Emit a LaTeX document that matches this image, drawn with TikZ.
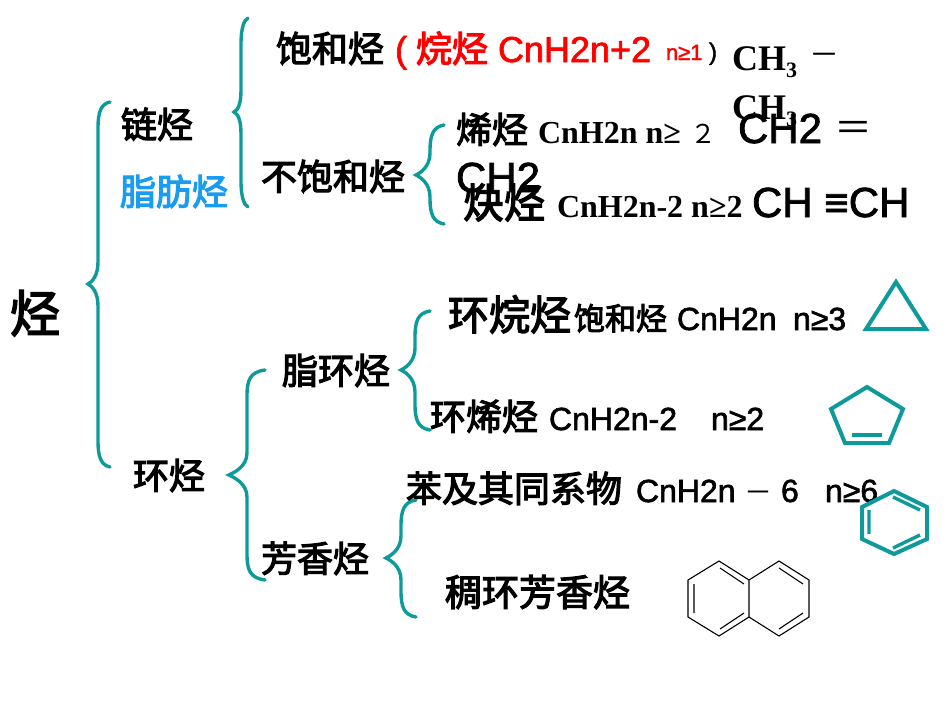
\documentclass[tikz,border=0pt]{standalone}
\usepackage{fontspec}
\setmainfont[FakeBold=1.8]{Liberation Sans}
\newfontfamily\cjk[FakeBold=3.2]{Noto Sans CJK SC}
\newfontfamily\cjkthin{Noto Sans CJK SC}
\newfontfamily\ser{Liberation Serif}
\definecolor{teal1}{HTML}{0E9A9A}
\definecolor{blue1}{HTML}{1A9CF0}
\newcommand{\fs}[1]{\fontsize{#1}{#1}\selectfont}
\tikzset{
  tx/.style={anchor=base west,inner sep=0pt,outer sep=0pt},
  zh/.style={tx,font=\cjk\fs{#1}},
  zt/.style={tx,font=\cjkthin\fs{#1}},
  la/.style={tx,font=\fs{#1}},
  sb/.style={tx,font=\ser\bfseries\fs{#1}},
  brace/.style={draw=teal1,line width=3.4pt,line cap=round,fill=none},
  ring/.style={draw=teal1,line width=4pt,line join=miter},
  inner bond/.style={draw=teal1,line width=3.4pt},
  thin ring/.style={draw=black,line width=1.1pt}
}
\newcommand{\brc}[6]{% x-top-end, x-line, x-tip, y-top, y-mid, y-bottom
  \draw[brace] (#1,#4) .. controls (#2+3,#4+2) and (#2,#4+10) .. (#2,#4+26)
    -- (#2,#5-22) .. controls (#2,#5-8) and (#3+4,#5-2) .. (#3,#5)
    .. controls (#3+4,#5+2) and (#2,#5+8) .. (#2,#5+22)
    -- (#2,#6-26) .. controls (#2,#6-10) and (#2+3,#6-2) .. (#1,#6);}
\begin{document}
\begin{tikzpicture}[x=1pt,y=-1pt]
\useasboundingbox (0,0) rectangle (950,713);
\brc{110}{98}{88}{102}{284}{467}
\brc{248}{241}{234}{18}{112}{207}
\brc{444}{430}{416}{125}{175}{224}
\brc{430}{415}{401}{311}{370}{430}
\brc{265}{247}{229}{370}{475}{580}
\brc{416}{401}{386}{500}{558}{617}

\node[zh=50] (root) at (10,332) {烃};
\node[zh=36] (chain) at (121,138) {链烃};
\node[zh=36,text=blue1] (fat) at (120,205) {脂肪烃};
\node[zh=36] (cyc) at (133,489) {环烃};
\node[zh=36] (sat) at (276,62) {饱和烃};
\node[la=36,text=red] (p1) at (395,62) {(};
\node[zh=36,text=red] (alk) at (416,62) {烷烃};
\node[la=36,text=red] (f1) at (498,62) {CnH2n+2};
\node[la=22,text=red] (n1) at (666,60) {n≥1};
\node[la=24] (p2) at (709,60) {)};
\node[sb=36] (ch3a) at (732,70) {CH\raisebox{-0.2em}{\fs{22}3}};
\node[zt=30] (dash) at (809,65) {－};
\node[sb=36] (ch3b) at (732,119) {CH\raisebox{-0.2em}{\fs{22}3}};
\node[zh=36] (uns) at (261,190) {不饱和烃};
\node[zh=36] (ene) at (456,143) {烯烃};
\node[sb=32] (f2) at (538,143) {CnH2n n≥};
\node[zt=26] (two) at (690,143) {２};
\node[la=42] (eth) at (738,143) {CH2};
\node[zt=38] (eq) at (834,141) {＝};
\node[la=42] (eth2) at (456,192) {CH2};
\node[zh=41] (yne) at (463,218) {炔烃};
\node[sb=32] (f3) at (557,217) {CnH2n-2 n≥2};
\node[la=42] (ace) at (752,217) {CH ≡CH};
\node[zh=36] (ali) at (282,384) {脂环烃};
\node[zh=41] (cane) at (448,330) {环烷烃};
\node[zh=31] (sat2) at (574,330) {饱和烃};
\node[la=32] (f4) at (677,330) {CnH2n};
\node[la=32] (n4) at (793,330) {n≥3};
\node[zh=36] (cene) at (430,430) {环烯烃};
\node[la=32] (f5) at (549,430) {CnH2n-2};
\node[la=32] (n5) at (711,430) {n≥2};
\node[zh=36] (aro) at (261,572) {芳香烃};
\node[zh=36] (benz) at (406,502) {苯及其同系物};
\node[la=32] (f6) at (636,502) {CnH2n};
\node[zt=28] (m6) at (744,502) {－};
\node[la=32] (six) at (781,502) {6};
\node[la=32] (n6) at (825,502) {n≥6};
\node[zh=37] (fused) at (445,606) {稠环芳香烃};

% triangle
\draw[ring] (896,282) -- (926,329) -- (866,329) -- cycle;
% cyclopentene
\draw[ring] (867,387) -- (903,409) -- (889,443) -- (845,443) -- (831,409) -- cycle;
\draw[inner bond] (852,435) -- (882,435);
% benzene
\draw[ring] (894,491) -- (927,507) -- (927,539) -- (894,554) -- (862,539) -- (862,507) -- cycle;
\draw[inner bond] (893,497) -- (920,510) (869,510) -- (869,534) (893,548) -- (920,535);
% naphthalene
\draw[thin ring] (719,561) -- (749,580) -- (749,617) -- (719,636) -- (688,617) -- (688,580) -- cycle;
\draw[thin ring] (749,580) -- (779,561) -- (809,580) -- (809,617) -- (779,636) -- (749,617);
\draw[thin ring] (720,568) -- (744,584) (694,584) -- (694,613) (720,629) -- (744,613)
  (779,568) -- (803,584) (779,629) -- (803,613);
\end{tikzpicture}
\end{document}
